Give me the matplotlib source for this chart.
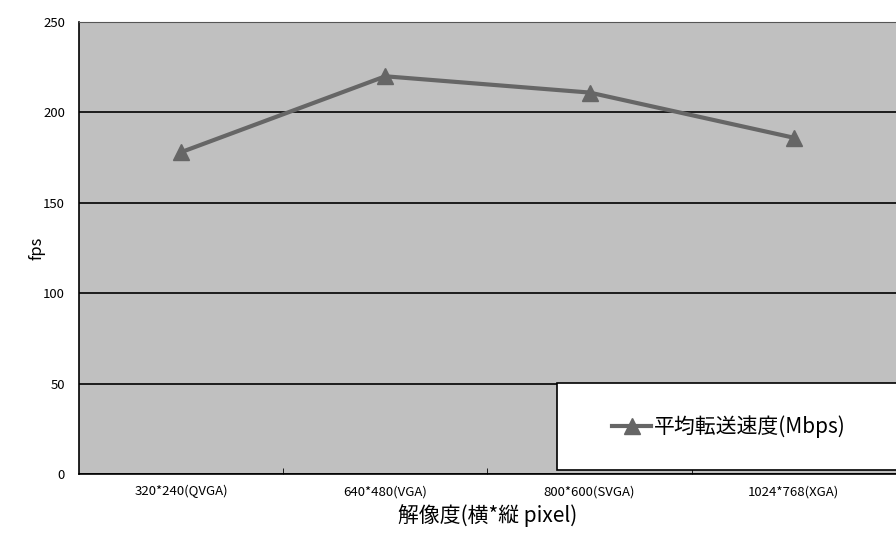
import matplotlib.pyplot as plt
from matplotlib.patches import Rectangle

plt.rcParams['font.family'] = ['Noto Sans CJK JP', 'DejaVu Sans']

categories = ['320*240(QVGA)', '640*480(VGA)', '800*600(SVGA)', '1024*768(XGA)']
fps = [178, 220, 211, 186]
series_name = '平均転送速度(Mbps)'

fig = plt.figure(figsize=(8.96, 5.38), dpi=100)
ax = fig.add_axes([0.088, 0.119, 0.912, 0.840])
ax.set_facecolor('#c0c0c0')

x = list(range(len(categories)))
ax.plot(x, fps, color='#666666', linewidth=3, marker='^', markersize=11,
        markeredgecolor='#666666', label=series_name, zorder=3)

ax.set_xlim(-0.5, len(categories) - 0.5)
ax.set_ylim(0, 250)
ax.set_yticks([0, 50, 100, 150, 200, 250])
ax.yaxis.grid(True, color='black', linewidth=1.2)
ax.set_axisbelow(True)

ax.set_xticks(x)
ax.set_xticklabels(categories, fontsize=9.5)
ax.set_xticks([0.5, 1.5, 2.5], minor=True)
ax.tick_params(axis='x', which='major', length=0, pad=8)
ax.tick_params(axis='x', which='minor', length=4, direction='in', color='black')
ax.tick_params(axis='y', length=0, pad=10, labelsize=9.5)

ax.spines['right'].set_visible(False)
ax.spines['top'].set_color('#555555')
ax.spines['left'].set_linewidth(1.2)
ax.spines['bottom'].set_linewidth(1.2)

ax.set_ylabel('fps', fontsize=12, labelpad=-2)
ax.set_xlabel('解像度(横*縦 pixel)', fontsize=15, labelpad=4)

ax.add_patch(Rectangle((0.585, 0.009), 0.5, 0.192, transform=ax.transAxes,
                       facecolor='white', edgecolor='black', linewidth=1.2,
                       clip_on=False, zorder=5))
leg = ax.legend(loc='center', bbox_to_anchor=(0.795, 0.105), frameon=False,
                fontsize=15, handlelength=1.9, handletextpad=0.1)
leg.set_zorder(6)

fig.savefig('out.png', dpi=100)
